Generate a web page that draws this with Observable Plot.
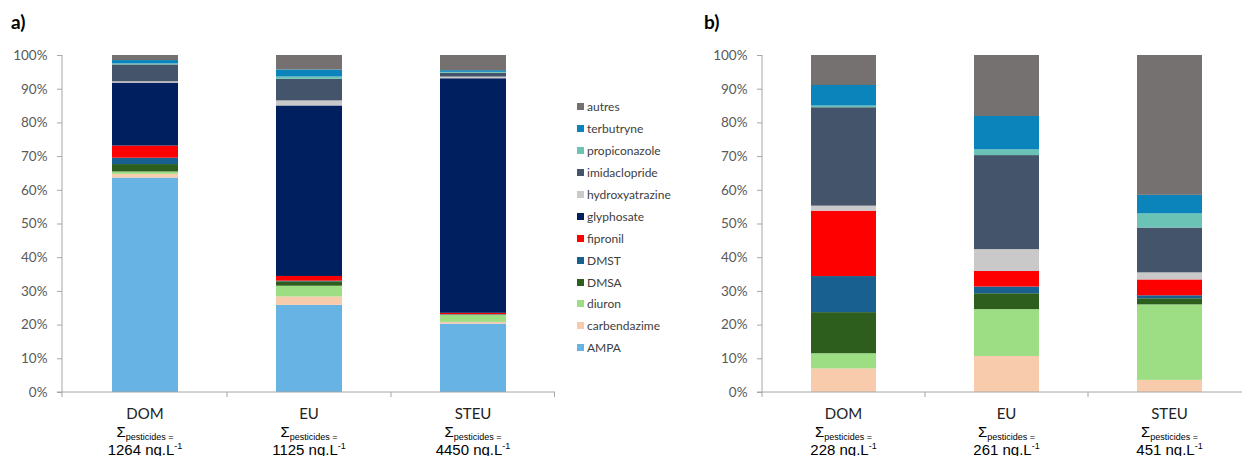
<!DOCTYPE html>
<html><head><meta charset="utf-8">
<script src="https://cdn.jsdelivr.net/npm/d3@7"></script>
<script src="https://cdn.jsdelivr.net/npm/@observablehq/plot@0.6"></script>
<style>
html,body{margin:0;padding:0;background:#fff;overflow:hidden;width:1242px;height:456px}
#wrap{position:relative;width:1242px;height:456px;overflow:hidden}
.panel{position:absolute;top:0}
.plabel{position:absolute;font:bold 19px Lato, sans-serif;color:#000;line-height:1}
#legend{position:absolute;left:577px;top:96px;font:12px Lato, sans-serif;color:#404040}
#legend .row{height:21.9px;display:flex;align-items:center}
#legend .sw{width:7px;height:7px;margin-right:3px}
</style></head><body><div id="wrap"></div>
<script>
const categories = ["DOM", "EU", "STEU"];
const series = ["AMPA","carbendazime","diuron","DMSA","DMST","fipronil","glyphosate","hydroxyatrazine","imidaclopride","propiconazole","terbutryne","autres"];
const colors = ["#67b3e4","#f8cbad","#9ddd84","#2e5e1e","#17608f","#ff0000","#001f5f","#c9c9c9","#44546a","#6bc3b5","#0a84bb","#767171"];
const sumsA = ["1264", "1125", "4450"];
const sumsB = ["228", "261", "451"];
const yTicks = [0, 0.1, 0.2, 0.3, 0.4, 0.5, 0.6, 0.7, 0.8, 0.9, 1];

// panel a) shares (%) in series order
const a_DOM  = [63.7, 1.1, 0.7, 2.2, 1.9, 3.6, 18.7, 0.4, 5.0, 0.3, 1.0, 1.5];
const a_EU   = [25.9, 2.5, 3.2, 1.3, 0.2, 1.4, 50.7, 1.5, 6.4, 0.7, 2.1, 4.3];
const a_STEU = [20.3, 0.5, 2.1, 0.1, 0.1, 0.4, 69.6, 0.5, 1.1, 0.3, 0.5, 4.5];
// panel b) shares (%)
const b_DOM  = [0, 7.0, 4.5, 12.2, 10.7, 19.4, 0, 1.5, 29.2, 0.5, 6.1, 8.9];
const b_EU   = [0, 10.7, 13.9, 4.7, 2.0, 4.6, 0, 6.5, 27.9, 1.7, 9.9, 18.1];
const b_STEU = [0, 3.6, 22.4, 1.8, 0.9, 4.7, 0, 2.1, 13.3, 4.2, 5.5, 41.5];

function rowsOf(arrs) {
  const rows = [];
  categories.forEach((c, i) => arrs[i].forEach((v, j) => rows.push({cat: c, series: series[j], value: v})));
  return rows;
}

function axesMark(sums) {
  return (index, scales, values, dims) => {
    const x = scales.x, y = scales.y;
    const bw = typeof x.bandwidth === "function" ? x.bandwidth() : x.bandwidth;
    const g = d3.create("svg:g");
    const x0 = dims.marginLeft, x1 = dims.width - dims.marginRight;
    const y0 = y(0), yTop = y(1);
    const axisCol = "#a6a6a6";
    g.append("line").attr("x1", x0).attr("x2", x0).attr("y1", yTop).attr("y2", y0).attr("stroke", axisCol);
    g.append("line").attr("x1", x0 - 5).attr("x2", x1).attr("y1", y0).attr("y2", y0).attr("stroke", axisCol);
    const bounds = [x0];
    for (let i = 0; i < categories.length - 1; i++) bounds.push((x(categories[i]) + bw + x(categories[i + 1])) / 2);
    bounds.push(x1 - 0.5);
    bounds.forEach(b => g.append("line").attr("x1", b).attr("x2", b).attr("y1", y0).attr("y2", y0 + 5).attr("stroke", axisCol));
    categories.forEach((c, i) => {
      const cx = x(c) + bw / 2;
      g.append("text").attr("x", cx).attr("y", y0 + 27).attr("text-anchor", "middle")
        .attr("font-family", "Lato, sans-serif").attr("font-size", 15).attr("fill", "#222").text(c);
      const t = g.append("text").attr("x", cx).attr("y", y0 + 45).attr("text-anchor", "middle")
        .attr("font-family", "Liberation Sans, Arial, sans-serif").attr("fill", "#000");
      t.append("tspan").attr("font-size", 15).text("\u03A3");
      t.append("tspan").attr("font-size", 9).attr("dy", 2.5).text("pesticides =");
      const t2 = g.append("text").attr("x", cx).attr("y", y0 + 62.5).attr("text-anchor", "middle")
        .attr("font-family", "Liberation Sans, Arial, sans-serif").attr("font-size", 15).attr("fill", "#000");
      t2.append("tspan").text(sums[i] + " ng.L");
      t2.append("tspan").attr("font-size", 9).attr("dy", -6).text("-1");
    });
    return g.node();
  };
}

function panel(rows, sums, left, width, marginLeft, marginRight) {
  const svg = Plot.plot({
    width, height: 456,
    marginLeft, marginRight, marginTop: 55, marginBottom: 64,
    x: {domain: categories, paddingInner: 0.6, paddingOuter: 0.3, axis: null},
    y: {domain: [0, 1], axis: null},
    color: {domain: series, range: colors},
    style: {fontFamily: "Lato, sans-serif", background: "transparent", overflow: "visible"},
    marks: [
      Plot.barY(rows, Plot.stackY({offset: "normalize", x: "cat", y: "value", fill: "series", order: series})),
      Plot.axisY({ticks: yTicks, tickFormat: d3.format(".0%"), tickSize: 5, tickPadding: 10, label: null,
        stroke: "#a6a6a6", fill: "#595959", fontSize: 13.5}),
      axesMark(sums)
    ]
  });
  svg.classList.add("panel");
  svg.style.left = left + "px";
  return svg;
}

const wrap = document.getElementById("wrap");
wrap.appendChild(panel(rowsOf([a_DOM, a_EU, a_STEU]), sumsA, 0, 560, 62, 5));
wrap.appendChild(panel(rowsOf([b_DOM, b_EU, b_STEU]), sumsB, 690, 562, 72, 0));

const la = document.createElement("div"); la.className = "plabel"; la.style.left = "11px"; la.style.top = "12px"; la.textContent = "a)"; wrap.appendChild(la);
const lb = document.createElement("div"); lb.className = "plabel"; lb.style.left = "704px"; lb.style.top = "12px"; lb.textContent = "b)"; wrap.appendChild(lb);

const legend = document.createElement("div"); legend.id = "legend";
series.slice().reverse().forEach(s => {
  const r = document.createElement("div"); r.className = "row";
  const sw = document.createElement("div"); sw.className = "sw"; sw.style.background = colors[series.indexOf(s)];
  const tx = document.createElement("span"); tx.textContent = s;
  r.appendChild(sw); r.appendChild(tx); legend.appendChild(r);
});
wrap.appendChild(legend);
</script>
</body></html>
